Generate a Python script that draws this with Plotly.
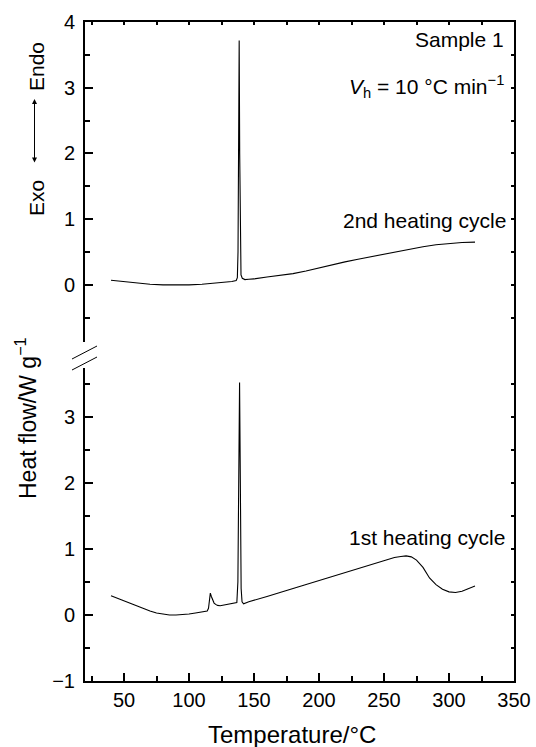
import plotly.graph_objects as go

# ---- data ----
temp_2nd = [40, 50, 60, 70, 80, 90, 100, 110, 120, 128, 133, 136.3, 137.2, 137.7, 138.2, 138.6,
            139.0, 139.5, 140.0, 141.0, 143, 146, 150, 160, 170, 180, 190, 200, 210, 220, 230,
            240, 250, 260, 270, 280, 290, 300, 310, 320]
hf_2nd = [0.07, 0.05, 0.025, 0.01, 0.0, -0.005, 0.0, 0.01, 0.025, 0.04, 0.05, 0.065, 0.11, 0.5, 2.2, 3.72,
          2.0, 0.45, 0.15, 0.1, 0.08, 0.085, 0.09, 0.12, 0.14, 0.17, 0.21, 0.26, 0.30, 0.35, 0.39,
          0.43, 0.47, 0.51, 0.55, 0.58, 0.61, 0.63, 0.645, 0.65]

temp_1st = [40, 45, 50, 55, 60, 65, 70, 75, 80, 85, 90, 95, 100, 105, 110, 114, 115, 115.7, 116.4,
            117.2, 118.2, 119.3, 120.5, 122, 124, 127, 130, 134, 136.8, 137.6, 138.3, 138.9, 139.5,
            140.1, 140.8, 142, 146, 150, 160, 170, 180, 190, 200, 210, 220, 230, 240, 250, 258,
            263, 267, 271, 275, 280, 285, 290, 295, 300, 305, 310, 315, 320]
hf_1st = [0.29, 0.25, 0.21, 0.17, 0.13, 0.09, 0.06, 0.03, 0.01, 0.0, 0.0, 0.005, 0.015, 0.03, 0.045,
          0.06, 0.1, 0.25, 0.33, 0.28, 0.22, 0.18, 0.16, 0.145, 0.14, 0.15, 0.16, 0.18, 0.19, 0.5,
          2.2, 3.52, 2.0, 0.4, 0.2, 0.17, 0.2, 0.22, 0.28, 0.34, 0.40, 0.46, 0.52, 0.58, 0.65, 0.71,
          0.77, 0.82, 0.87, 0.885, 0.895, 0.88, 0.83, 0.72, 0.56, 0.46, 0.39, 0.35, 0.34, 0.36, 0.40, 0.44]

x_range = [20, 350]
y_bottom_range = [-1, 3.74]
y_top_range = [-0.87, 4]

FONT = "Liberation Sans, Arial, Helvetica, sans-serif"
W, H = 536, 747
ML, MR, MT, MB = 85, 22, 22, 66
PW, PH = W - ML - MR, H - MT - MB


def px_x(px):
    return (px - ML) / PW


def px_y(py):
    return (H - MB - py) / PH


bot_dom = [0, px_y(368)]
top_dom = [px_y(342), 1]

fig = go.Figure()
fig.add_trace(go.Scatter(x=temp_1st, y=hf_1st, mode="lines", line=dict(color="black", width=1.1),
                         xaxis="x", yaxis="y", showlegend=False, hoverinfo="skip"))
fig.add_trace(go.Scatter(x=temp_2nd, y=hf_2nd, mode="lines", line=dict(color="black", width=1.1),
                         xaxis="x2", yaxis="y2", showlegend=False, hoverinfo="skip"))
# dummy traces for right-side axes
fig.add_trace(go.Scatter(x=[None], y=[None], xaxis="x", yaxis="y3", showlegend=False, hoverinfo="skip"))
fig.add_trace(go.Scatter(x=[None], y=[None], xaxis="x2", yaxis="y4", showlegend=False, hoverinfo="skip"))

common_axis = dict(showgrid=False, zeroline=False, showline=True, linecolor="black", linewidth=2,
                   automargin=False,
                   tickcolor="black", tickwidth=1.5, tickfont=dict(family=FONT, size=20, color="black"))

fig.update_layout(
    width=W, height=H, autosize=False,
    margin=dict(l=ML, r=MR, t=MT, b=MB, pad=0, autoexpand=False),
    paper_bgcolor="white", plot_bgcolor="white",
    font=dict(family=FONT, color="black"),
    xaxis=dict(**common_axis, range=x_range, domain=[0, 1], anchor="y", side="bottom",
               tick0=0, dtick=50, ticks="inside", ticklen=8,
               minor=dict(dtick=25, tick0=0, ticks="inside", ticklen=5, tickcolor="black", tickwidth=1.5)),
    xaxis2=dict(**common_axis, range=x_range, domain=[0, 1], anchor="y2", side="top", matches="x",
                tick0=0, dtick=25, ticks="inside", ticklen=3, showticklabels=False),
    yaxis=dict(**common_axis, range=y_bottom_range, domain=bot_dom, anchor="x",
               tick0=0, dtick=1, ticks="inside", ticklen=8, ticklabelstandoff=4,
               minor=dict(dtick=0.5, tick0=0, ticks="inside", ticklen=5, tickcolor="black", tickwidth=1.5)),
    yaxis2=dict(**common_axis, range=y_top_range, domain=top_dom, anchor="x2",
                tick0=0, dtick=1, ticks="inside", ticklen=8, ticklabelstandoff=4,
                minor=dict(dtick=0.5, tick0=0, ticks="inside", ticklen=5, tickcolor="black", tickwidth=1.5)),
    yaxis3=dict(**common_axis, range=y_bottom_range, overlaying="y", side="right", anchor="x",
                tick0=0, dtick=0.5, ticks="inside", ticklen=3, showticklabels=False),
    yaxis4=dict(**common_axis, range=y_top_range, overlaying="y2", side="right", anchor="x2",
                tick0=0, dtick=0.5, ticks="inside", ticklen=3, showticklabels=False),
)

shapes = [
    # continuous right border across the break
    dict(type="line", xref="paper", yref="paper", x0=1 + 1 / PW, x1=1 + 1 / PW,
         y0=bot_dom[1], y1=top_dom[0], line=dict(color="black", width=2)),
    # break marks
    dict(type="line", xref="paper", yref="paper", x0=px_x(72), y0=px_y(359), x1=px_x(97), y1=px_y(346),
         line=dict(color="black", width=1)),
    dict(type="line", xref="paper", yref="paper", x0=px_x(72), y0=px_y(370), x1=px_x(97), y1=px_y(357),
         line=dict(color="black", width=1)),
]
fig.update_layout(shapes=shapes)

ann_font = dict(family=FONT, size=21, color="black")
annotations = [
    dict(text="Sample 1", xref="paper", yref="paper", x=px_x(506), y=px_y(40),
         xanchor="right", yanchor="middle", showarrow=False, font=ann_font),
    dict(text="<i>V</i><sub>h</sub> = 10 °C min<sup>−1</sup>", xref="paper", yref="paper",
         x=px_x(506), y=px_y(86), xanchor="right", yanchor="middle", showarrow=False, font=ann_font),
    dict(text="2nd heating cycle", xref="paper", yref="paper", x=px_x(508), y=px_y(220),
         xanchor="right", yanchor="middle", showarrow=False, font=ann_font),
    dict(text="1st heating cycle", xref="paper", yref="paper", x=px_x(507), y=px_y(537),
         xanchor="right", yanchor="middle", showarrow=False, font=ann_font),
    # axis titles
    dict(text="Temperature/°C", xref="paper", yref="paper", x=px_x(292), y=px_y(735),
         xanchor="center", yanchor="middle", showarrow=False, font=dict(family=FONT, size=24, color="black")),
    dict(text="Heat flow/W g<sup>−1</sup>", xref="paper", yref="paper", x=px_x(26), y=px_y(418),
         xanchor="center", yanchor="middle", textangle=-90, showarrow=False,
         font=dict(family=FONT, size=23, color="black")),
    dict(text="Endo", xref="paper", yref="paper", x=px_x(36), y=px_y(67),
         xanchor="center", yanchor="middle", textangle=-90, showarrow=False,
         font=dict(family=FONT, size=21, color="black")),
    dict(text="Exo", xref="paper", yref="paper", x=px_x(36), y=px_y(198),
         xanchor="center", yanchor="middle", textangle=-90, showarrow=False,
         font=dict(family=FONT, size=21, color="black")),
    # double-headed arrow
    dict(text="", xref="paper", yref="paper", x=px_x(34.5), y=px_y(99), ax=0, ay=65,
         axref="pixel", ayref="pixel", showarrow=True, arrowhead=2, startarrowhead=2,
         arrowside="end+start", arrowsize=1, arrowwidth=1, arrowcolor="black", standoff=0, startstandoff=0),
]
fig.update_layout(annotations=annotations)

fig.write_html("out.html")
